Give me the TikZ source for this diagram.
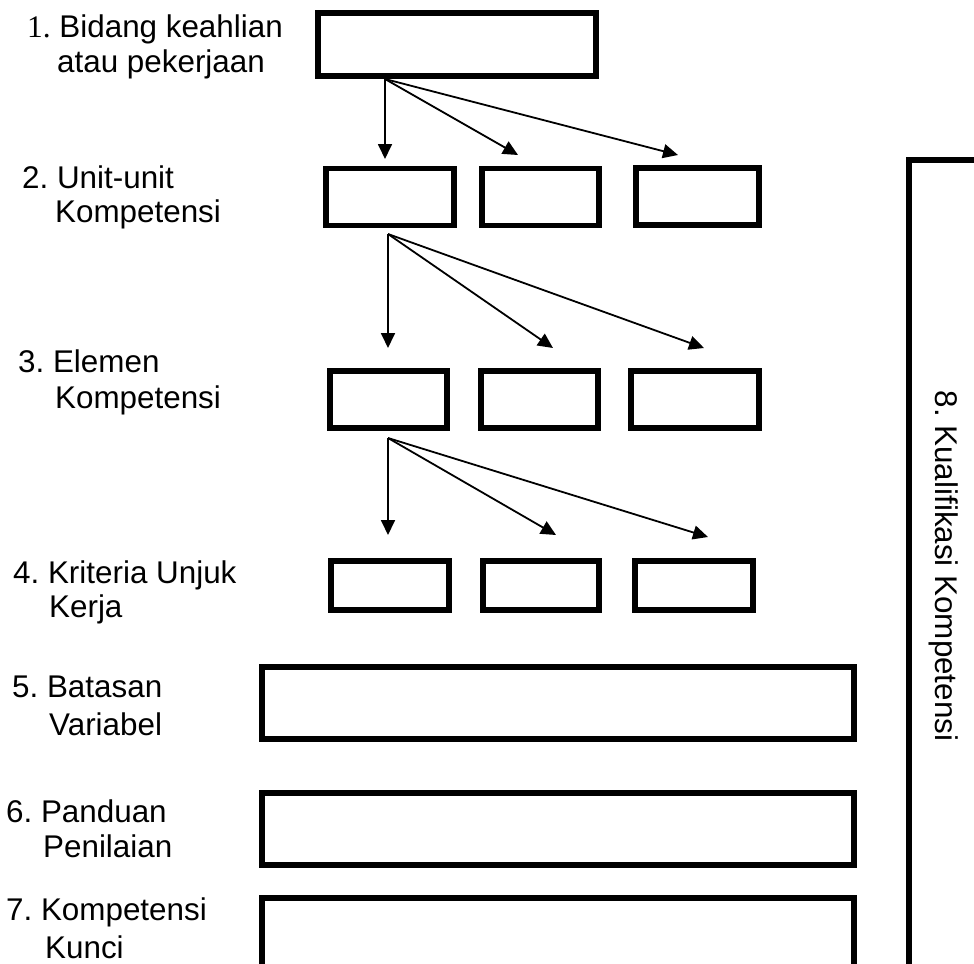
\documentclass[tikz,border=0pt]{standalone}
\usepackage{fontspec}
\setmainfont{Liberation Sans}
\newfontfamily\serifnum{Liberation Serif}
\usetikzlibrary{arrows.meta}
\frenchspacing
\begin{document}
\begin{tikzpicture}[x=1bp,y=-1bp,
  box/.style={draw, rectangle, line width=5.5bp, inner sep=0pt, outer sep=0pt},
  arr/.style={line width=1.8bp, -{Triangle[length=15bp,width=14bp]}},
  lab/.style={anchor=base west, inner sep=0pt, font=\frenchspacing\fontsize{31.5}{36}\selectfont},
  vlab/.style={rotate=-90, inner sep=0pt, font=\frenchspacing\fontsize{31.5}{36}\selectfont}]
\useasboundingbox (0,0) rectangle (974,964);
\clip (0,0) rectangle (974,964);
% level 1
\node[box, minimum width=278bp, minimum height=63bp] (T) at (457,44.5) {};
% level 2
\node[box, minimum width=128bp, minimum height=57bp] (b21) at (390,197) {};
\node[box, minimum width=117bp, minimum height=57bp] (b22) at (540.5,197) {};
\node[box, minimum width=123bp, minimum height=57bp] (b23) at (697.5,196.5) {};
% level 3
\node[box, minimum width=117bp, minimum height=57bp] (b31) at (388.5,399.5) {};
\node[box, minimum width=117bp, minimum height=57bp] (b32) at (539.5,399.5) {};
\node[box, minimum width=128bp, minimum height=57bp] (b33) at (695,399.5) {};
% level 4
\node[box, minimum width=118bp, minimum height=49bp] (b41) at (390,585.5) {};
\node[box, minimum width=116bp, minimum height=49bp] (b42) at (541,585.5) {};
\node[box, minimum width=118bp, minimum height=49bp] (b43) at (694,585.5) {};
% wide boxes
\node[box, minimum width=592bp, minimum height=72bp] (b5) at (558,703) {};
\node[box, minimum width=592bp, minimum height=72bp] (b6) at (558,829) {};
\node[box, minimum width=592bp, minimum height=112bp] (b7) at (558,954) {};
% tall box
\node[box, minimum width=151bp, minimum height=850bp] (K) at (984.5,585) {};
% arrows level 1 -> 2
\coordinate (o1) at (385,79);
\coordinate (t11) at (385,159);
\coordinate (t12) at (518,155);
\coordinate (t13) at (678,155);
\draw[arr] (o1) -- (t11);
\draw[arr] (o1) -- (t12);
\draw[arr] (o1) -- (t13);
% arrows level 2 -> 3
\coordinate (o2) at (388,234);
\coordinate (t21) at (388,348);
\coordinate (t22) at (553,348);
\coordinate (t23) at (704,348);
\draw[arr] (o2) -- (t21);
\draw[arr] (o2) -- (t22);
\draw[arr] (o2) -- (t23);
% arrows level 3 -> 4
\coordinate (o3) at (388,438);
\coordinate (t31) at (388,535);
\coordinate (t32) at (556,535);
\coordinate (t33) at (708,537);
\draw[arr] (o3) -- (t31);
\draw[arr] (o3) -- (t32);
\draw[arr] (o3) -- (t33);
% labels
\node[lab] (l1a) at (27,37) {{\serifnum 1.} Bidang keahlian};
\node[lab] (l1b) at (57,72) {atau pekerjaan};
\node[lab] (l2a) at (22,188) {2. Unit-unit};
\node[lab] (l2b) at (55,222) {Kompetensi};
\node[lab] (l3a) at (18,372) {3. Elemen};
\node[lab] (l3b) at (55,408) {Kompetensi};
\node[lab] (l4a) at (13,583) {4. Kriteria Unjuk};
\node[lab] (l4b) at (49,617) {Kerja};
\node[lab] (l5a) at (12,697) {5. Batasan};
\node[lab] (l5b) at (49,735) {Variabel};
\node[lab] (l6a) at (6,822) {6. Panduan};
\node[lab] (l6b) at (43,857) {Penilaian};
\node[lab] (l7a) at (6,920) {7. Kompetensi};
\node[lab] (l7b) at (45,958) {Kunci};
\node[vlab] (l8) at (944,566) {8. Kualifikasi Kompetensi};
\end{tikzpicture}
\end{document}
